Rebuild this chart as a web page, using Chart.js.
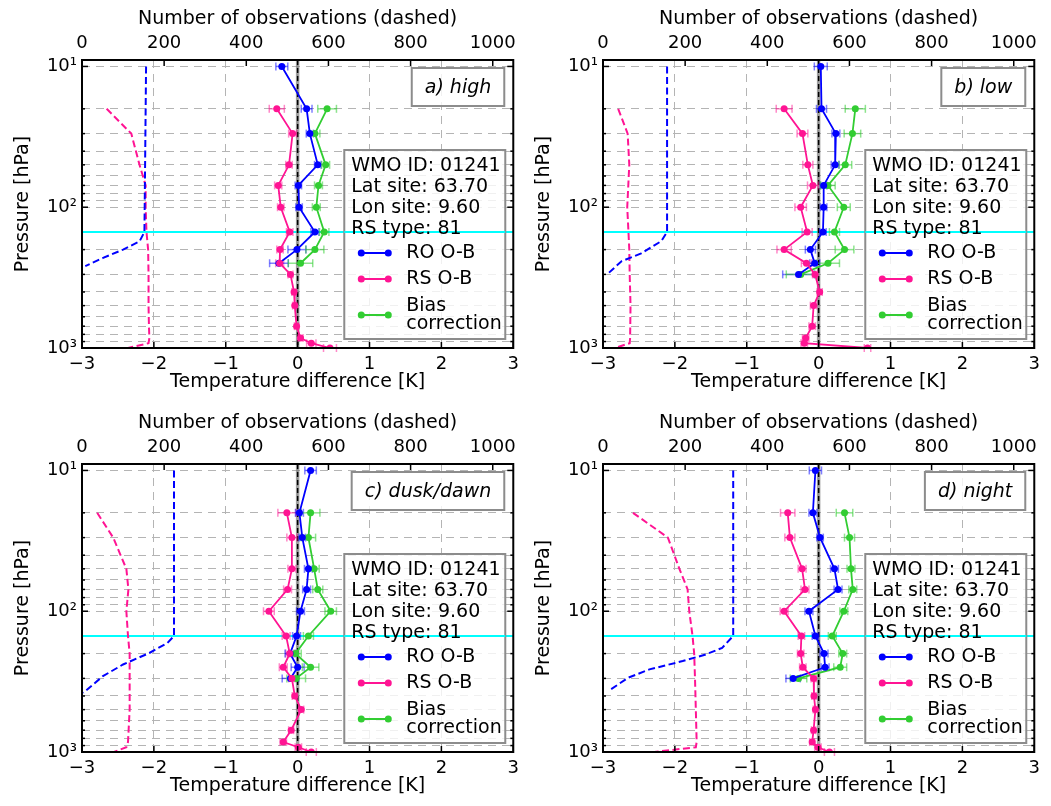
<!DOCTYPE html>
<html>
<head>
<meta charset="utf-8">
<script src="https://cdn.jsdelivr.net/npm/chart.js@4.4.0/dist/chart.umd.min.js"></script>
<style>
  body { margin: 0; background: #fff; width: 1051px; height: 806px; overflow: hidden; position: relative; }
  canvas { position: absolute; }
</style>
</head>
<body>
<canvas id="high" width="525" height="402" style="left:0;top:0"></canvas>
<canvas id="low" width="525" height="402" style="left:521px;top:0"></canvas>
<canvas id="dusk" width="525" height="402" style="left:0;top:404px"></canvas>
<canvas id="night" width="525" height="402" style="left:521px;top:404px"></canvas>
<script>
// pressure levels [hPa]
const pRO = [10, 20, 30, 50, 70, 100, 150, 200, 250, 300];
const pRS = [20, 30, 50, 70, 100, 150, 200, 250, 300, 400, 500, 700, 850, 925, 1000];
const pBias = [20, 30, 50, 70, 100, 150, 200, 250, 300];
const pGrid = [10, 20, 30, 40, 50, 60, 70, 80, 90, 100, 200, 300, 400, 500, 600, 700, 800, 900, 1000];
const pLabels = { 10: '10\u00b9', 100: '10\u00b2', 1000: '10\u00b3' };
const tropopause = 150;
const xTicks = [-3, -2, -1, 0, 1, 2, 3];
const nTicks = [0, 200, 400, 600, 800, 1000];
const infoLines = ['WMO ID: 01241', 'Lat site: 63.70', 'Lon site: 9.60', 'RS type: 81'];

// a) high
const highRO = [-0.22, 0.125, 0.17, 0.28, 0.01, 0.02, 0.24, -0.01, -0.26];
const highROErr = [0.083, 0.075, 0.05, 0.045, 0.045, 0.045, 0.055, 0.125, 0.13];
const highRS = [-0.29, -0.07, -0.12, -0.27, -0.235, -0.11, -0.245, -0.25, -0.10, -0.05, -0.04, -0.015, 0.04, 0.19, 0.45];
const highRSErr = [0.105, 0.055, 0.045, 0.05, 0.045, 0.045, 0.045, 0.055, 0.035, 0.03, 0.03, 0.03, 0.035, 0.065, 0.09];
const highBias = [0.41, 0.24, 0.39, 0.29, 0.26, 0.37, 0.24, 0.04];
const highBiasErr = [0.13, 0.07, 0.055, 0.055, 0.055, 0.065, 0.125, 0.17];
const highNROp = [10, 150, 175, 200, 230, 262];
const highNRO = [156, 152, 140, 100, 50, 8];
const highNRSp = [20, 30, 50, 70, 100, 150, 200, 300, 500, 700, 850, 925, 1000];
const highNRS = [60, 120, 140, 155, 155, 157, 161, 162, 162, 163, 164, 162, 112];

// b) low
const lowRO = [0.03, 0.04, 0.24, 0.23, 0.07, 0.07, 0.06, -0.115, -0.055, -0.28];
const lowROErr = [0.09, 0.07, 0.055, 0.055, 0.045, 0.045, 0.045, 0.07, 0.07, 0.22];
const lowRS = [-0.48, -0.225, -0.15, -0.08, -0.25, -0.16, -0.48, -0.17, -0.05, 0.015, -0.07, -0.09, -0.18, -0.2, 0.68];
const lowRSErr = [0.11, 0.075, 0.07, 0.075, 0.08, 0.07, 0.1, 0.07, 0.035, 0.035, 0.045, 0.045, 0.045, 0.045, 0.045];
const lowBias = [0.51, 0.47, 0.37, 0.13, 0.35, 0.22, 0.36, 0.13, -0.25];
const lowBiasErr = [0.14, 0.115, 0.09, 0.1, 0.09, 0.07, 0.13, 0.16, 0.2];
const lowNROp = [10, 150, 174, 213, 242, 300];
const lowNRO = [156, 156, 142, 93, 45, 10];
const lowNRSp = [20, 30, 50, 100, 150, 200, 300, 500, 850, 925, 1000];
const lowNRS = [37, 60, 64, 59, 62, 64, 65, 67, 66, 65, 29];

// c) dusk/dawn
const duskRO = [0.18, 0.025, 0.065, 0.15, 0.125, 0.04, -0.015, -0.105, 0.0, -0.1];
const duskROErr = [0.08, 0.055, 0.045, 0.055, 0.055, 0.055, 0.055, 0.07, 0.09, 0.115];
const duskRS = [-0.15, -0.08, -0.08, -0.14, -0.40, -0.16, -0.11, -0.2, -0.08, -0.04, 0.05, -0.09, -0.2, 0.01, 0.19];
const duskRSErr = [0.125, 0.07, 0.055, 0.055, 0.075, 0.055, 0.055, 0.055, 0.045, 0.035, 0.035, 0.035, 0.045, 0.045, 0.07];
const duskBias = [0.18, 0.15, 0.23, 0.28, 0.46, 0.15, -0.03, 0.18, -0.02];
const duskBiasErr = [0.13, 0.1, 0.07, 0.07, 0.08, 0.07, 0.08, 0.115, 0.13];
const duskNROp = [10, 150, 168, 198, 239, 289, 380];
const duskNRO = [224, 224, 208, 164, 100, 51, 3];
const duskNRSp = [20, 30, 50, 70, 100, 150, 200, 300, 500, 850, 925, 1000];
const duskNRS = [37, 76, 108, 113, 108, 112, 116, 116, 116, 112, 108, 78];

// d) night
const nightRO = [-0.045, -0.08, 0.02, 0.22, 0.27, -0.135, -0.045, 0.075, 0.09, -0.355];
const nightROErr = [0.085, 0.055, 0.045, 0.055, 0.055, 0.055, 0.045, 0.055, 0.055, 0.1];
const nightRS = [-0.43, -0.40, -0.23, -0.19, -0.48, -0.24, -0.25, -0.22, -0.07, -0.065, -0.045, -0.07, -0.09, -0.01, 0.15];
const nightRSErr = [0.1, 0.07, 0.055, 0.055, 0.055, 0.045, 0.045, 0.045, 0.035, 0.03, 0.03, 0.03, 0.035, 0.045, 0.07];
const nightBias = [0.36, 0.43, 0.45, 0.475, 0.35, 0.19, 0.335, 0.30, -0.28];
const nightBiasErr = [0.115, 0.07, 0.055, 0.055, 0.055, 0.055, 0.055, 0.09, 0.115];
const nightNROp = [10, 150, 182, 203, 226, 259, 297, 369];
const nightNRO = [317, 317, 290, 250, 194, 113, 61, 13];
const nightNRSp = [20, 30, 50, 70, 100, 150, 200, 300, 500, 850, 925, 1000];
const nightNRS = [73, 158, 186, 206, 210, 218, 222, 224, 226, 228, 226, 125];

const BLUE = '#0000ff', PINK = '#ff1493', GREEN = '#32cd32';
const ERRCOL = { [BLUE]: 'rgba(0,0,255,0.5)', [PINK]: 'rgba(255,20,147,0.5)', [GREEN]: 'rgba(50,205,50,0.55)' };
const FONT = 'DejaVu Sans';

Chart.defaults.font.family = FONT;
Chart.defaults.font.size = 18;
Chart.defaults.color = '#000';

function seg(ctx, x0, y0, x1, y1) {
  ctx.beginPath(); ctx.moveTo(x0, y0); ctx.lineTo(x1, y1); ctx.stroke();
}

const panelPlugin = {
  id: 'panel',
  beforeDatasetsDraw(chart) {
    const { ctx, chartArea: a, scales: { x, y } } = chart;
    ctx.save();
    // tropopause
    ctx.strokeStyle = '#00ffff'; ctx.lineWidth = 2;
    const yt = y.getPixelForValue(tropopause);
    seg(ctx, a.left, yt, a.right, yt);
    // zero line
    const x0 = x.getPixelForValue(0);
    ctx.strokeStyle = 'rgba(120,120,120,0.7)'; ctx.lineWidth = 3.5;
    seg(ctx, x0, a.top, x0, a.bottom);
    ctx.strokeStyle = '#000'; ctx.lineWidth = 1.5; ctx.setLineDash([5, 3]);
    seg(ctx, x0, a.top, x0, a.bottom);
    ctx.setLineDash([]);
    // error bars
    chart.data.datasets.forEach(ds => {
      if (!ds.err) return;
      ctx.strokeStyle = ERRCOL[ds.borderColor]; ctx.lineWidth = 1.5;
      ds.data.forEach((pt, i) => {
        const e = ds.err[i];
        const xa = x.getPixelForValue(pt.x - e), xb = x.getPixelForValue(pt.x + e);
        const py = y.getPixelForValue(pt.y);
        seg(ctx, xa, py, xb, py);
        seg(ctx, xa, py - 4, xa, py + 4);
        seg(ctx, xb, py - 4, xb, py + 4);
      });
    });
    ctx.restore();
  },
  afterDraw(chart, args, opts) {
    const { ctx, chartArea: a, scales: { x, x2, y } } = chart;
    ctx.save();
    // frame and inward ticks
    ctx.strokeStyle = '#000'; ctx.lineWidth = 2;
    ctx.strokeRect(a.left, a.top, a.right - a.left, a.bottom - a.top);
    ctx.lineWidth = 1.5;
    xTicks.forEach(v => { const px = x.getPixelForValue(v); seg(ctx, px, a.bottom, px, a.bottom - 6); });
    nTicks.forEach(v => { const px = x2.getPixelForValue(v); seg(ctx, px, a.top, px, a.top + 6); });
    pGrid.forEach(v => {
      const py = y.getPixelForValue(v), L = pLabels[v] ? 6 : 3;
      seg(ctx, a.left, py, a.left + L, py);
      seg(ctx, a.right, py, a.right - L, py);
    });
    // panel title box
    ctx.font = 'italic 19px "' + FONT + '"';
    const tw = ctx.measureText(opts.title).width;
    const bw = tw + 26, bx = a.right - 9 - bw, by = a.top + 8;
    ctx.fillStyle = 'rgba(255,255,255,0.8)';
    ctx.fillRect(bx, by, bw, 38);
    ctx.strokeStyle = '#8c8c8c'; ctx.lineWidth = 2;
    ctx.strokeRect(bx, by, bw, 38);
    ctx.fillStyle = '#000'; ctx.textBaseline = 'middle'; ctx.textAlign = 'center';
    ctx.fillText(opts.title, bx + bw / 2, by + 20);
    // info / legend box
    const lx = a.right - 169, ly = a.top + 90, lw = 161, lh = (a.bottom - 9) - ly;
    ctx.fillStyle = 'rgba(255,255,255,0.8)';
    ctx.fillRect(lx, ly, lw, lh);
    ctx.strokeRect(lx, ly, lw, lh);
    const yt = y.getPixelForValue(tropopause);
    ctx.strokeStyle = '#00ffff'; ctx.lineWidth = 2;
    seg(ctx, lx, yt, lx + lw, yt);
    ctx.font = '19px "' + FONT + '"';
    ctx.fillStyle = '#000'; ctx.textAlign = 'left';
    infoLines.forEach((t, i) => ctx.fillText(t, lx + 7, ly + 16 + 21 * i));
    const entries = [[BLUE, ['RO O-B'], 103], [PINK, ['RS O-B'], 129], [GREEN, ['Bias', 'correction'], 165]];
    entries.forEach(([c, txt, dy]) => {
      ctx.strokeStyle = c; ctx.fillStyle = c; ctx.lineWidth = 2;
      seg(ctx, lx + 17, ly + dy, lx + 44, ly + dy);
      [lx + 17, lx + 44].forEach(px => { ctx.beginPath(); ctx.arc(px, ly + dy, 3.5, 0, Math.PI * 2); ctx.fill(); });
      ctx.fillStyle = '#000';
      const t0 = ly + dy - (txt.length - 1) * 9;
      txt.forEach((t, i) => ctx.fillText(t, lx + 62, t0 + 18 * i));
    });
    ctx.restore();
  }
};

function pts(p, v) {
  return v.map((val, i) => ({ x: val, y: p[i] }));
}

function makePanel(id, title, ro, roErr, rs, rsErr, bias, biasErr, nroP, nro, nrsP, nrs) {
  const grid = { color: '#b4b4b4', lineWidth: 1, drawTicks: false };
  const border = { display: false, dash: [8, 6] };
  const titleFont = { size: 19 };
  new Chart(document.getElementById(id), {
    type: 'scatter',
    data: {
      datasets: [
        { label: 'RO count', data: pts(nroP, nro), xAxisID: 'x2', showLine: true, borderColor: BLUE,
          borderDash: [7, 3.5], borderWidth: 2, pointRadius: 0 },
        { label: 'RS count', data: pts(nrsP, nrs), xAxisID: 'x2', showLine: true, borderColor: PINK,
          borderDash: [7, 3.5], borderWidth: 2, pointRadius: 0 },
        { label: 'RS O-B', data: pts(pRS, rs), err: rsErr, showLine: true, borderColor: PINK,
          backgroundColor: PINK, borderWidth: 1.8, pointRadius: 3.5, pointBorderWidth: 0 },
        { label: 'RO O-B', data: pts(pRO, ro), err: roErr, showLine: true, borderColor: BLUE,
          backgroundColor: BLUE, borderWidth: 1.8, pointRadius: 3.5, pointBorderWidth: 0 },
        { label: 'Bias correction', data: pts(pBias, bias), err: biasErr, showLine: true, borderColor: GREEN,
          backgroundColor: GREEN, borderWidth: 1.8, pointRadius: 3.5, pointBorderWidth: 0 }
      ]
    },
    options: {
      responsive: false,
      animation: false,
      layout: { padding: { left: 0, right: 8, top: 0, bottom: 0 } },
      plugins: { legend: { display: false }, tooltip: { enabled: false }, panel: { title: title } },
      scales: {
        x: {
          type: 'linear', position: 'bottom', min: -3, max: 3,
          afterBuildTicks: s => { s.ticks = xTicks.map(v => ({ value: v })); },
          afterFit: s => { s.height = 54; },
          ticks: { padding: 6, autoSkip: false, maxRotation: 0,
            callback: v => (v < 0 ? '\u2212' + Math.abs(v) : String(v)) },
          grid: grid, border: border,
          title: { display: true, text: 'Temperature difference [K]', font: titleFont, padding: { top: 0, bottom: 9 } }
        },
        x2: {
          type: 'linear', position: 'top', min: 0, max: 1050,
          afterBuildTicks: s => { s.ticks = nTicks.map(v => ({ value: v })); },
          afterFit: s => { s.height = 60; },
          ticks: { padding: 6, autoSkip: false, maxRotation: 0, callback: v => String(v) },
          grid: { drawOnChartArea: false, drawTicks: false }, border: { display: false },
          title: { display: true, text: 'Number of observations (dashed)', font: titleFont, padding: { top: 8, bottom: 0 } }
        },
        y: {
          type: 'logarithmic', position: 'left', reverse: true, min: 9, max: 1000,
          afterBuildTicks: s => { s.ticks = pGrid.map(v => ({ value: v })); },
          afterFit: s => { s.width = 82; },
          ticks: { padding: 5, autoSkip: false, callback: v => pLabels[v] || '' },
          grid: grid, border: border,
          title: { display: true, text: 'Pressure [hPa]', font: titleFont, padding: { top: 12, bottom: 0 } }
        }
      }
    },
    plugins: [panelPlugin]
  });
}

makePanel('high', 'a) high', highRO, highROErr, highRS, highRSErr, highBias, highBiasErr, highNROp, highNRO, highNRSp, highNRS);
makePanel('low', 'b) low', lowRO, lowROErr, lowRS, lowRSErr, lowBias, lowBiasErr, lowNROp, lowNRO, lowNRSp, lowNRS);
makePanel('dusk', 'c) dusk/dawn', duskRO, duskROErr, duskRS, duskRSErr, duskBias, duskBiasErr, duskNROp, duskNRO, duskNRSp, duskNRS);
makePanel('night', 'd) night', nightRO, nightROErr, nightRS, nightRSErr, nightBias, nightBiasErr, nightNROp, nightNRO, nightNRSp, nightNRS);
</script>
</body>
</html>
